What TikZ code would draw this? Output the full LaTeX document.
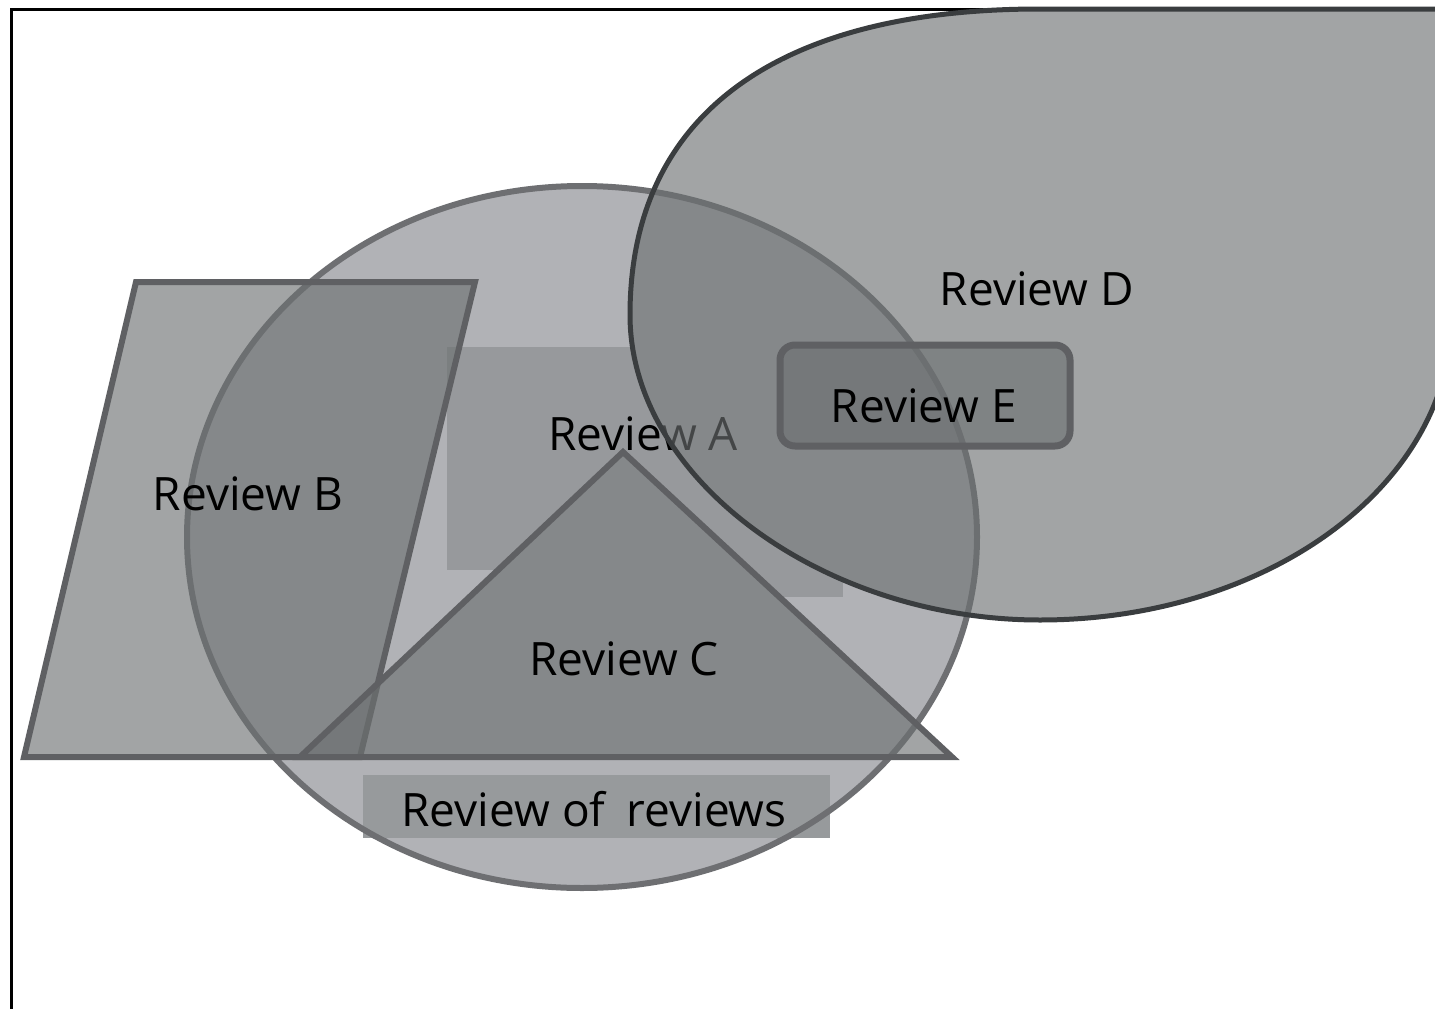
\documentclass[tikz,border=0pt]{standalone}
\usepackage{fontspec}
\setmainfont{Open Sans}
\definecolor{fillA}{RGB}{118,120,127}
\definecolor{fillS}{RGB}{108,112,113}
\definecolor{edgeA}{RGB}{110,111,114}
\definecolor{edgeB}{RGB}{95,96,99}
\definecolor{edgeD}{RGB}{58,61,63}
\definecolor{boxfill}{RGB}{108,112,113}
\definecolor{rorbox}{RGB}{151,154,156}
\begin{document}
\begin{tikzpicture}[x=1pt,y=-1pt,
  lbl/.style={font=\fontsize{46}{55}\selectfont, anchor=base, inner sep=0pt, text=black},
  shapeA/.style={draw=edgeA, line width=6pt, fill=fillA, fill opacity=0.57},
  shapeS/.style={draw=edgeB, line width=6pt, fill=fillS, fill opacity=0.63, line join=miter},
  shapeD/.style={draw=edgeD, line width=5pt, fill=fillS, fill opacity=0.63},
  shapeE/.style={draw=edgeB, line width=7pt, fill=fillS, fill opacity=0.63, rounded corners=15pt},
  labelbox/.style={fill=boxfill, fill opacity=0.37, draw=none}]
\useasboundingbox (0,0) rectangle (1435,1009);
\fill[white] (0,0) rectangle (1435,1009);
\begin{scope}
\clip (0,0) rectangle (1435,1009);
% frame
\draw[black, line width=3pt] (11,1012) -- (11,9) -- (1440,9);
% Review A (circle)
\draw[shapeA] (582,537) ellipse [x radius=395, y radius=351];
% label boxes of Review A, kept outside Review C and Review D
\begin{scope}[even odd rule]
\clip (0,0) rectangle (1435,1009) (623,452) -- (952,757) -- (300,757) -- cycle;
\clip (0,0) rectangle (1500,1009)
  (1040,9) -- (1452,9) -- (1452,315)
  .. controls (1452,486) and (1267,620) .. (1040,620)
  .. controls (823,620) and (630,479) .. (630,315)
  .. controls (630,117) and (774,9) .. (1040,9) -- cycle;
\fill[labelbox] (447,347) rectangle (635,570);
\fill[labelbox] (635,347) rectangle (843,597);
\end{scope}
% Review B (parallelogram)
\draw[shapeS] (136,282) -- (475,282) -- (360,757) -- (24,757) -- cycle;
\node[lbl] (tB) at (248,510) {Review B};
% Review C (triangle)
\draw[shapeS] (623,452) -- (952,757) -- (300,757) -- cycle;
\node[lbl] (tA) at (643,450) {Review A};
\node[lbl] (tC) at (624,675) {Review C};
% Review of reviews box
\fill[rorbox] (363,775) rectangle (830,838);
\begin{scope}
\clip (363,775) rectangle (830,838);
\draw[edgeA, line width=6pt] (582,537) ellipse [x radius=395, y radius=351];
\end{scope}
\node[lbl] (tR) at (594,826) {Review of\hspace{0.2em} reviews};
% Review D (teardrop)
\draw[shapeD] (1040,9) -- (1452,9) -- (1452,315)
  .. controls (1452,486) and (1267,620) .. (1040,620)
  .. controls (823,620) and (630,479) .. (630,315)
  .. controls (630,117) and (774,9) .. (1040,9) -- cycle;
\node[lbl] (tD) at (1037,305) {Review D};
% Review E (rounded rectangle)
\draw[shapeE] (780,345) rectangle (1070,446);
\node[lbl] (tE) at (924,422) {Review E};
\end{scope}
\end{tikzpicture}
\end{document}
